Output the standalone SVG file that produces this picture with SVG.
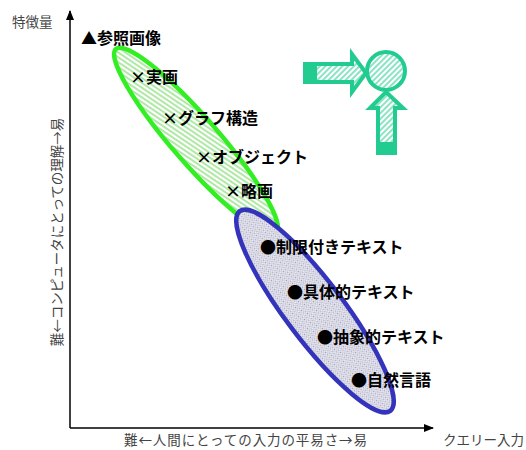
<svg xmlns="http://www.w3.org/2000/svg" width="526" height="450" viewBox="0 0 526 450">
<defs>
<pattern id="hatchG" width="4" height="4" patternUnits="userSpaceOnUse" patternTransform="rotate(-15)">
<rect width="4" height="4" fill="#ffffff"/>
<line x1="0" y1="1" x2="4" y2="1" stroke="#8ee080" stroke-width="1.4"/>
</pattern>
<pattern id="dotB" width="3" height="3" patternUnits="userSpaceOnUse">
<rect width="3" height="3" fill="#ececf4"/>
<rect x="0" y="0" width="1.1" height="1.1" fill="#9a9ab4"/>
<rect x="1.5" y="1.5" width="1.1" height="1.1" fill="#9a9ab4"/>
</pattern>
<pattern id="hatchT" width="4" height="4" patternUnits="userSpaceOnUse" patternTransform="rotate(-45)">
<rect width="4" height="4" fill="#ffffff"/>
<line x1="0" y1="1" x2="4" y2="1" stroke="#6fdcb8" stroke-width="1.6"/>
</pattern>
<marker id="ah" markerWidth="10" markerHeight="10" refX="9" refY="5" orient="auto" markerUnits="userSpaceOnUse">
<path d="M0,1 L10,5 L0,9 z" fill="#000"/>
</marker>
</defs>
<style>
.axis{fill:none;stroke:#000;stroke-width:1.5}
.lab{font-family:"Noto Sans CJK JP","Noto Sans",sans-serif;font-weight:bold;font-size:16px;fill:#000}
.ax{font-family:"Noto Sans CJK JP","Noto Sans",sans-serif;font-size:13.5px;fill:#444}
.icon{stroke:#22cc90;stroke-width:4;fill:url(#hatchT)}
</style>
<rect width="526" height="450" fill="#fff"/>

<g id="connectors">
<line class="axis" x1="70" y1="428" x2="70" y2="11" marker-end="url(#ah)"/>
<line class="axis" x1="70" y1="428" x2="433" y2="428" marker-end="url(#ah)"/>
</g>

<g id="axis-labels">
<text class="ax" x="12" y="27">特徴量</text>
<text class="ax" x="124" y="445" textLength="243" lengthAdjust="spacing">難←人間にとっての入力の平易さ→易</text>
<text class="ax" x="443" y="445">クエリー入力</text>
<text class="ax" transform="translate(62,232) rotate(-90)" text-anchor="middle">難←コンピュータにとっての理解→易</text>
</g>

<g id="group-image">
<ellipse cx="196" cy="141" rx="122" ry="23" transform="rotate(49 196 141)" fill="url(#hatchG)" stroke="#33ee22" stroke-width="4.5"/>
</g>

<g id="group-text">
<ellipse cx="315" cy="311" rx="125" ry="29" transform="rotate(53 315 311)" fill="url(#dotB)" stroke="#3333bb" stroke-width="4.5"/>
</g>

<g id="icon">
<path class="icon" d="M305,64 L352,64 L352,54 L366,73 L352,92 L352,82 L305,82 Z"/>
<rect x="305" y="64" width="12" height="18" fill="#22cc90"/>
<circle class="icon" cx="386" cy="71" r="19"/>
<path class="icon" d="M386,92 L403,108 L395,108 L395,153 L378,153 L378,108 L370,108 Z"/>
<rect x="378" y="142" width="17" height="11" fill="#22cc90"/>
</g>

<g id="n-ref"><text class="lab" x="81" y="44">▲参照画像</text></g>
<g id="n-jitsuga"><text class="lab" x="130" y="83">×実画</text></g>
<g id="n-graph"><text class="lab" x="162" y="124">×グラフ構造</text></g>
<g id="n-object"><text class="lab" x="196" y="163">×オブジェクト</text></g>
<g id="n-ryakuga"><text class="lab" x="225" y="197">×略画</text></g>
<g id="n-seigen"><text class="lab" x="260" y="253">●制限付きテキスト</text></g>
<g id="n-gutai"><text class="lab" x="287" y="298">●具体的テキスト</text></g>
<g id="n-chusho"><text class="lab" x="317" y="343">●抽象的テキスト</text></g>
<g id="n-shizen"><text class="lab" x="351" y="386">●自然言語</text></g>
</svg>
